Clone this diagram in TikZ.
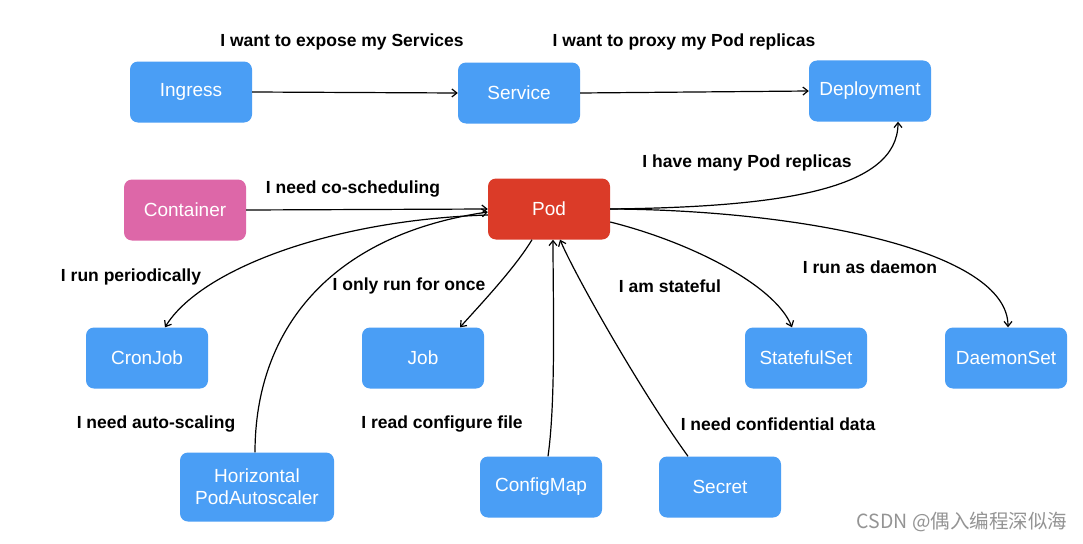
\documentclass[tikz,border=0pt]{standalone}
\usepackage{fontspec}
\setmainfont{Liberation Sans}
\newfontfamily\cjkfont{Noto Sans CJK SC}
\usetikzlibrary{arrows.meta}
\definecolor{kblue}{HTML}{4A9EF5}
\definecolor{kred}{HTML}{DB3B28}
\definecolor{kpink}{HTML}{DD67A8}
\tikzset{
  box/.style={rectangle, rounded corners=8pt, fill=kblue, text=white, minimum width=122pt, minimum height=61pt, inner sep=2pt, align=center, font=\fontsize{19}{22}\selectfont},
  lbl/.style={font=\bfseries\fontsize{17.5}{20}\selectfont, inner sep=0pt},
  arr/.style={line width=1.2pt, -{Straight Barb[length=5pt,width=8pt]}},
  ln/.style={line width=1.2pt}
}
\begin{document}
\begin{tikzpicture}[x=1pt,y=-1pt]
\useasboundingbox[fill=white] (0,0) rectangle (1083,543);
% nodes
\node[box] (ingress) at (191,92) {Ingress};
\node[box] (service) at (519,93) {Service};
\node[box] (deploy) at (870,91) {Deployment};
\node[box, fill=kpink] (container) at (185,210) {Container};
\node[box, fill=kred] (pod) at (549,209) {Pod};
\node[box] (cronjob) at (147,358) {CronJob};
\node[box] (job) at (423,358) {Job};
\node[box] (sts) at (806,358) {StatefulSet};
\node[box] (ds) at (1006,358) {DaemonSet};
\node[box, minimum width=154pt, minimum height=69pt] (hpa) at (257,487) {Horizontal\\PodAutoscaler};
\node[box] (cm) at (541,487) {ConfigMap};
\node[box] (secret) at (720,487) {Secret};
% labels
\node[lbl] (l1) at (342,42) {I want to expose my Services};
\node[lbl] (l2) at (684,42) {I want to proxy my Pod replicas};
\node[lbl] (l3) at (747,163) {I have many Pod replicas};
\node[lbl] (l4) at (353,189) {I need co-scheduling};
\node[lbl] (l5) at (131,277) {I run periodically};
\node[lbl] (l6) at (409,286) {I only run for once};
\node[lbl] (l7) at (670,286) {I am stateful};
\node[lbl] (l8) at (870,267) {I run as daemon};
\node[lbl] (l9) at (156,424) {I need auto-scaling};
\node[lbl] (l10) at (442,424) {I read configure file};
\node[lbl] (l11) at (778,424) {I need confidential data};
\node[font=\cjkfont\fontsize{19.5}{22}\selectfont, text=black!42, inner sep=0pt] (wm) at (962,522) {CSDN @偶入编程深似海};
% connectors
\draw[arr] (ingress.east) -- (service.west);
\draw[arr] (service.east) -- (deploy.west);
\draw[arr] (container.east) -- (pod.west);
\coordinate (depin) at ([xshift=28pt]deploy.south);
\draw[arr] (pod.east) .. controls (780,207) and (898,190) .. (depin);
\coordinate (dsin) at ([xshift=2pt]ds.north);
\draw[arr] (pod.east) .. controls (800,210) and (1008,250) .. (dsin);
\coordinate (podse) at ([yshift=-13pt]pod.east);
\coordinate (stsin) at ([xshift=-14pt]sts.north);
\draw[arr] (podse) .. controls (690,242) and (775,285) .. (stsin);
\coordinate (podjob) at ([xshift=-17pt]pod.south);
\coordinate (jobin) at ([xshift=37pt]job.north);
\draw[arr] (podjob) .. controls (515,268) and (480,305) .. (jobin);
\coordinate (podcj) at ([yshift=-6pt]pod.west);
\coordinate (cjin) at ([xshift=18pt]cronjob.north);
\draw[arr] (podcj) .. controls (330,220) and (200,270) .. (cjin);
\coordinate (hpaout) at ([xshift=-2pt]hpa.north);
\coordinate (podhpa) at ([yshift=-3pt]pod.west);
\draw[arr] (hpaout) .. controls (255,330) and (330,235) .. (podhpa);
\coordinate (cmout) at ([xshift=7pt]cm.north);
\coordinate (podcm) at ([xshift=4pt]pod.south);
\draw[arr] (cmout) .. controls (556,400) and (553,300) .. (podcm);
\coordinate (secout) at ([xshift=-32pt]secret.north);
\coordinate (podsec) at ([xshift=11pt]pod.south);
\draw[arr] (secout) .. controls (640,390) and (575,275) .. (podsec);
\end{tikzpicture}
\end{document}
